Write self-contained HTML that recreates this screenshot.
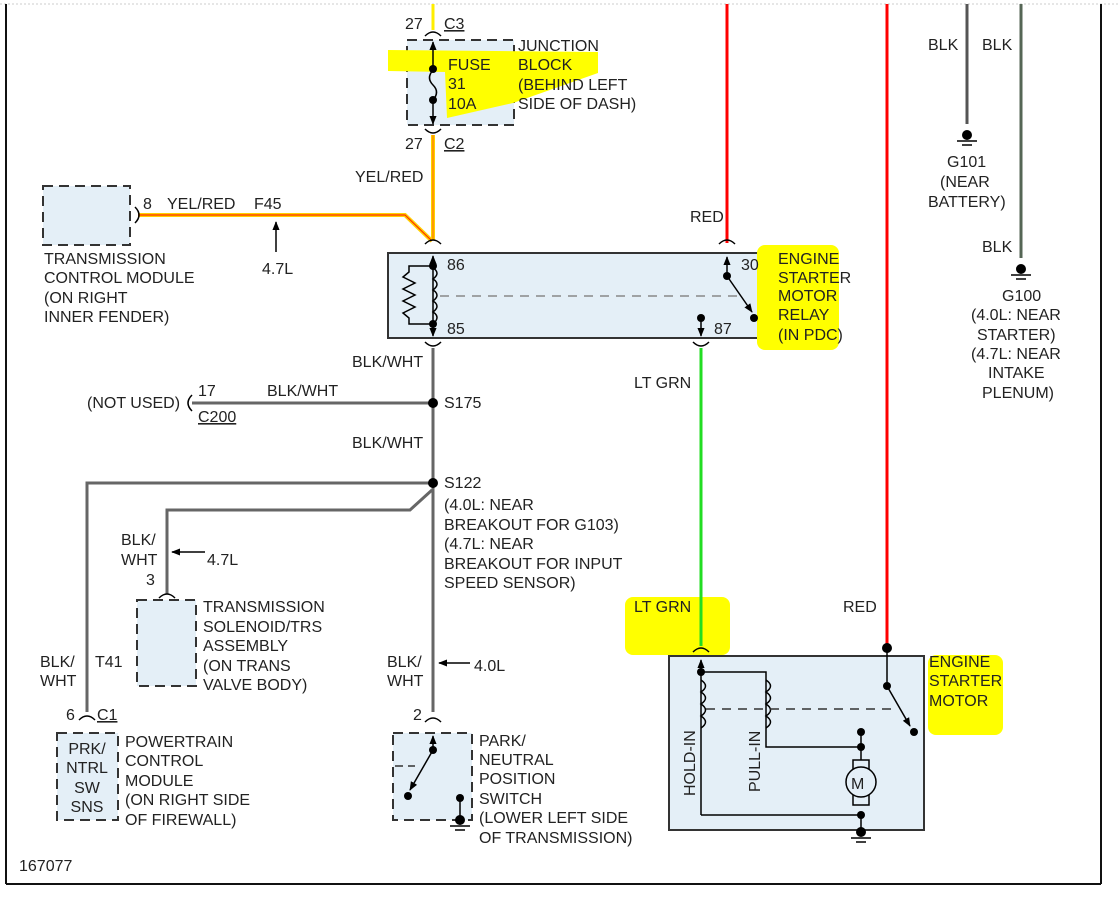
<!DOCTYPE html><html><head><style>body{margin:0;background:#fff}svg{display:block}text{font-family:"Liberation Sans",sans-serif;font-size:16px;fill:#222}</style></head><body>
<svg width="1120" height="901" xmlns="http://www.w3.org/2000/svg">
<defs><marker id="ar" viewBox="0 0 10 10" refX="9" refY="5" markerWidth="9" markerHeight="9" markerUnits="userSpaceOnUse" orient="auto"><path d="M0,1 L10,5 L0,9z" fill="#000"/></marker></defs>
<line x1="0" y1="4" x2="1120" y2="4" stroke="#ccc" stroke-dasharray="2,2"/>
<line x1="6" y1="4" x2="6" y2="884" stroke="#111" stroke-width="2"/>
<line x1="6" y1="884" x2="1101" y2="884" stroke="#111" stroke-width="2"/>
<line x1="1101" y1="4" x2="1101" y2="884" stroke="#111" stroke-width="2"/>
<g fill="#e4eff7" stroke="#333" stroke-width="2">
<rect x="407" y="40" width="107" height="85" stroke-dasharray="10,6"/>
<rect x="43" y="186" width="87" height="59" stroke-dasharray="10,6"/>
<rect x="388" y="253" width="387" height="85"/>
<rect x="137" y="600" width="59" height="86" stroke-dasharray="10,6"/>
<rect x="57" y="733" width="61" height="87" stroke-dasharray="10,6"/>
<rect x="393" y="733" width="79" height="87" stroke-dasharray="10,6"/>
<rect x="669" y="656" width="255" height="174"/>
</g>
<g fill="#ffff00">
<path d="M388,50 L598,52 L598,73 L513,103 L447,118 L445,72 L388,71z"/>
<rect x="757" y="245" width="82" height="105" rx="8"/>
<rect x="625" y="597" width="105" height="58" rx="8"/>
<rect x="928" y="655" width="75" height="80" rx="8"/>
</g>
<line x1="433" y1="4" x2="433" y2="30" stroke="#ffee00" stroke-width="3"/>
<line x1="433" y1="135" x2="433" y2="240" stroke="#ffd000" stroke-width="4"/>
<line x1="433" y1="135" x2="433" y2="240" stroke="#ff6a00" stroke-width="1"/>
<polyline points="138,215 405,215 432,241" fill="none" stroke="#ffd000" stroke-width="4"/>
<polyline points="138,215 405,215 432,241" fill="none" stroke="#ff3000" stroke-width="1.2"/>
<line x1="727" y1="4" x2="727" y2="243" stroke="#f00" stroke-width="3"/>
<line x1="887" y1="4" x2="887" y2="648" stroke="#f00" stroke-width="3"/>
<line x1="967" y1="4" x2="967" y2="124" stroke="#555" stroke-width="3"/>
<line x1="1021" y1="4" x2="1021" y2="258" stroke="#556655" stroke-width="3"/>
<line x1="701" y1="348" x2="701" y2="646" stroke="#22dd22" stroke-width="3"/>
<g stroke="#666" stroke-width="3" fill="none">
<line x1="433" y1="348" x2="433" y2="712"/>
<line x1="192" y1="403" x2="433" y2="403"/>
<polyline points="87,712 87,483 433,483"/>
<polyline points="167,594 167,510 410,510 432,490"/>
</g>
<g fill="none" stroke="#000" stroke-width="1.5">
<path d="M425,36 Q433,28 441,36"/><path d="M425,129 Q433,137 441,129"/>
<path d="M425,244 Q433,236 441,244"/><path d="M719,244 Q727,236 735,244"/>
<path d="M425,342 Q433,350 441,342"/><path d="M693,342 Q701,350 709,342"/>
<path d="M135,207 Q143,215 135,223"/><path d="M192,395 Q184,403 192,411"/>
<path d="M159,598 Q167,590 175,598"/><path d="M79,720 Q87,712 95,720"/>
<path d="M425,722 Q433,714 441,722"/><path d="M693,652 Q701,644 709,652"/>
</g>
<g stroke="#000" stroke-width="1.5" fill="none">
<line x1="433" y1="68" x2="433" y2="42" marker-end="url(#ar)"/><path d="M433,70 q-7,8 0,15 q7,7 0,15"/><line x1="433" y1="100" x2="433" y2="124" marker-end="url(#ar)"/>
<line x1="433" y1="300" x2="433" y2="256" marker-end="url(#ar)"/><line x1="433" y1="300" x2="433" y2="336" marker-end="url(#ar)"/>
<path d="M433,268 q8,5 0,11 q8,5 0,11 q8,5 0,11 q8,5 0,11 q8,5 0,12"/>
<polyline points="433,266 409,266 409,272 403,277 415,283 403,289 415,295 403,301 415,307 403,313 409,318 409,324 433,324"/>
<line x1="440" y1="296" x2="740" y2="296" stroke="#888" stroke-dasharray="9,7"/>
<line x1="727" y1="276" x2="727" y2="257" marker-end="url(#ar)"/><line x1="727" y1="276" x2="752" y2="312" marker-end="url(#ar)"/>
<line x1="701" y1="318" x2="701" y2="336" marker-end="url(#ar)"/>
<line x1="433" y1="750" x2="433" y2="736" marker-end="url(#ar)"/><line x1="433" y1="750" x2="410" y2="790" marker-end="url(#ar)"/>
<line x1="460" y1="798" x2="460" y2="822"/><line x1="395" y1="766" x2="415" y2="766" stroke="#333" stroke-dasharray="8,5"/>
<line x1="701" y1="815" x2="701" y2="660" marker-end="url(#ar)"/>
<polyline points="701,672 766,672 766,747 861,747"/>
<path d="M701,680 q9,6 0,12 q9,6 0,12 q9,6 0,12 q9,6 0,12"/>
<path d="M766,680 q9,6 0,12 q9,6 0,12 q9,6 0,12 q9,6 0,12"/>
<polyline points="701,815 861,815 861,830"/>
<line x1="861" y1="732" x2="861" y2="760"/><rect x="853" y="760" width="16" height="45" fill="#e4eff7"/>
<circle cx="861" cy="782" r="15" fill="#e4eff7"/>
<line x1="706" y1="709" x2="897" y2="709" stroke="#333" stroke-dasharray="9,7"/>
<line x1="887" y1="648" x2="887" y2="686"/><line x1="887" y1="686" x2="910" y2="726" marker-end="url(#ar)"/>
</g>
<g fill="#000">
<circle cx="433" cy="69" r="4"/><circle cx="433" cy="100" r="4"/>
<circle cx="433" cy="266" r="4"/><circle cx="433" cy="324" r="4"/>
<circle cx="727" cy="276" r="4"/><circle cx="754" cy="318" r="4"/><circle cx="701" cy="318" r="4"/>
<circle cx="433" cy="403" r="5"/><circle cx="433" cy="483" r="5"/>
<circle cx="433" cy="750" r="4"/><circle cx="408" cy="796" r="4"/><circle cx="460" cy="798" r="4"/>
<circle cx="701" cy="672" r="4"/><circle cx="887" cy="648" r="5"/><circle cx="887" cy="686" r="4"/><circle cx="914" cy="732" r="4"/>
<circle cx="861" cy="732" r="4"/><circle cx="861" cy="747" r="4"/><circle cx="861" cy="815" r="4"/>
<circle cx="967" cy="135" r="5"/><circle cx="1021" cy="269" r="5"/><circle cx="460" cy="820" r="5"/><circle cx="861" cy="832" r="5"/>
</g>
<g stroke="#000" stroke-width="1.5">
<line x1="957" y1="141" x2="977" y2="141"/><line x1="962" y1="145" x2="972" y2="145"/>
<line x1="1011" y1="275" x2="1031" y2="275"/><line x1="1016" y1="279" x2="1026" y2="279"/>
<line x1="450" y1="826" x2="470" y2="826"/><line x1="455" y1="830" x2="465" y2="830"/>
<line x1="851" y1="838" x2="871" y2="838"/><line x1="856" y1="842" x2="866" y2="842"/>
</g>
<g stroke="#000" stroke-width="1.5" marker-end="url(#ar)">
<line x1="276" y1="252" x2="276" y2="222"/>
<line x1="205" y1="552" x2="172" y2="552"/>
<line x1="470" y1="663" x2="439" y2="663"/>
</g>
<text x="405" y="29">27</text><text x="444" y="29" text-decoration="underline">C3</text>
<text x="405" y="149">27</text><text x="444" y="149" text-decoration="underline">C2</text>
<text x="448" y="70">FUSE</text><text x="448" y="89">31</text><text x="448" y="109">10A</text>
<text x="518" y="51">JUNCTION</text><text x="518" y="70">BLOCK</text><text x="518" y="90">(BEHIND LEFT</text><text x="518" y="109">SIDE OF DASH)</text>
<text x="355" y="182">YEL/RED</text><text x="143" y="209">8</text><text x="167" y="209">YEL/RED</text><text x="254" y="209">F45</text><text x="262" y="274">4.7L</text>
<text x="44" y="264">TRANSMISSION</text><text x="44" y="283">CONTROL MODULE</text><text x="44" y="303">(ON RIGHT</text><text x="44" y="322">INNER FENDER)</text>
<text x="690" y="222">RED</text><text x="447" y="270">86</text><text x="447" y="334">85</text><text x="741" y="270">30</text><text x="714" y="334">87</text>
<text x="778" y="264">ENGINE</text><text x="778" y="283">STARTER</text><text x="778" y="301">MOTOR</text><text x="778" y="320">RELAY</text><text x="778" y="340">(IN PDC)</text>
<text x="928" y="50">BLK</text><text x="982" y="50">BLK</text><text x="947" y="167">G101</text><text x="940" y="187">(NEAR</text><text x="928" y="207">BATTERY)</text>
<text x="982" y="252">BLK</text><text x="1002" y="301">G100</text><text x="971" y="320">(4.0L: NEAR</text><text x="977" y="340">STARTER)</text><text x="971" y="359">(4.7L: NEAR</text><text x="988" y="378">INTAKE</text><text x="982" y="398">PLENUM)</text>
<text x="352" y="367">BLK/WHT</text><text x="87" y="408">(NOT USED)</text><text x="198" y="396">17</text><text x="267" y="396">BLK/WHT</text><text x="198" y="422" text-decoration="underline">C200</text><text x="444" y="408">S175</text>
<text x="352" y="448">BLK/WHT</text><text x="444" y="488">S122</text>
<text x="444" y="510">(4.0L: NEAR</text><text x="444" y="530">BREAKOUT FOR G103)</text><text x="444" y="549">(4.7L: NEAR</text><text x="444" y="569">BREAKOUT FOR INPUT</text><text x="444" y="588">SPEED SENSOR)</text>
<text x="634" y="388">LT GRN</text><text x="634" y="612">LT GRN</text><text x="843" y="612">RED</text>
<text x="121" y="545">BLK/</text><text x="121" y="565">WHT</text><text x="207" y="565">4.7L</text><text x="146" y="585">3</text>
<text x="203" y="612">TRANSMISSION</text><text x="203" y="632">SOLENOID/TRS</text><text x="203" y="651">ASSEMBLY</text><text x="203" y="671">(ON TRANS</text><text x="203" y="690">VALVE BODY)</text>
<text x="40" y="667">BLK/</text><text x="40" y="686">WHT</text><text x="95" y="667">T41</text><text x="66" y="720">6</text><text x="97" y="720" text-decoration="underline">C1</text>
<text x="87" y="754" text-anchor="middle">PRK/</text><text x="87" y="773" text-anchor="middle">NTRL</text><text x="87" y="793" text-anchor="middle">SW</text><text x="87" y="812" text-anchor="middle">SNS</text>
<text x="125" y="747">POWERTRAIN</text><text x="125" y="766">CONTROL</text><text x="125" y="786">MODULE</text><text x="125" y="805">(ON RIGHT SIDE</text><text x="125" y="825">OF FIREWALL)</text>
<text x="387" y="667">BLK/</text><text x="387" y="686">WHT</text><text x="474" y="671">4.0L</text><text x="413" y="720">2</text>
<text x="479" y="746">PARK/</text><text x="479" y="765">NEUTRAL</text><text x="479" y="784">POSITION</text><text x="479" y="804">SWITCH</text><text x="479" y="823">(LOWER LEFT SIDE</text><text x="479" y="843">OF TRANSMISSION)</text>
<text x="929" y="667">ENGINE</text><text x="929" y="686">STARTER</text><text x="929" y="706">MOTOR</text>
<text x="851" y="789" font-size="19">M</text>
<text transform="translate(695,796) rotate(-90)">HOLD-IN</text><text transform="translate(760,792) rotate(-90)">PULL-IN</text>
<text x="19" y="871">167077</text>
</svg></body></html>
